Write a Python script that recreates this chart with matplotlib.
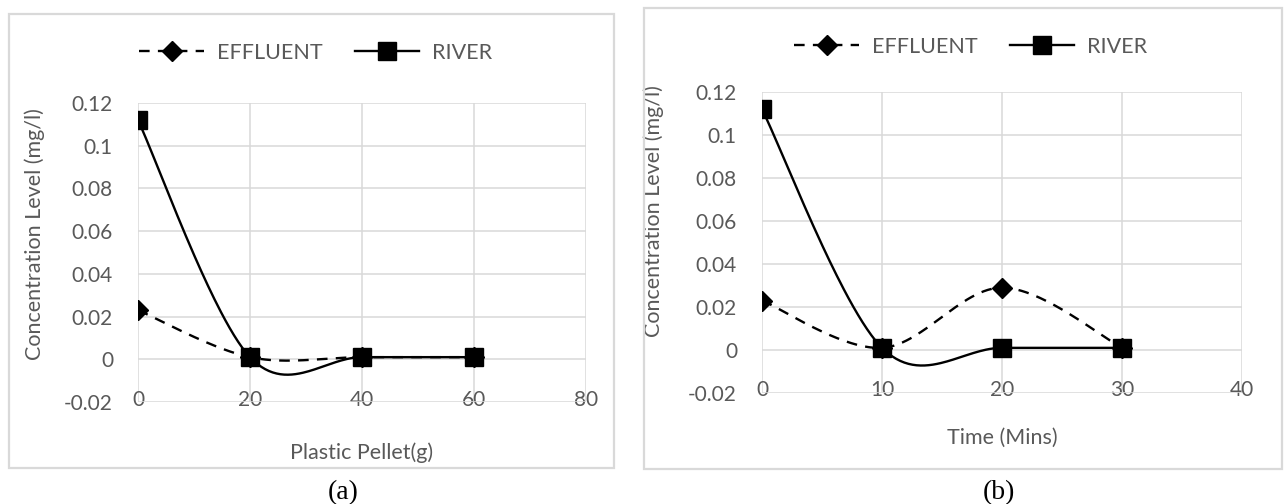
import numpy as np
import matplotlib.pyplot as plt
from matplotlib.patches import Rectangle
from matplotlib.ticker import FuncFormatter

# panel (a): plastic pellet dose
pellet_g = [0, 20, 40, 60]
effluent_a = [0.023, 0.001, 0.001, 0.001]
river_a = [0.112, 0.001, 0.001, 0.001]
xticks_a = [0, 20, 40, 60, 80]

# panel (b): contact time
time_min = [0, 10, 20, 30]
effluent_b = [0.023, 0.001, 0.029, 0.001]
river_b = [0.112, 0.001, 0.001, 0.001]
xticks_b = [0, 10, 20, 30, 40]

yticks = [-0.02, 0, 0.02, 0.04, 0.06, 0.08, 0.1, 0.12]

GREY = '#595959'
GRID = '#d9d9d9'
FONT = 'Lato'
DASH = (4.5, 3.5)
plt.rcParams['font.family'] = [FONT, 'DejaVu Sans']


def excel_smooth(x, y, n=60):
    # bezier segments with catmull-rom style control points (like excel "smoothed line")
    p = np.column_stack([x, y]).astype(float)
    p = np.vstack([p[:1], p, p[-1:]])
    out = []
    t = np.linspace(0, 1, n)[:, None]
    for i in range(1, len(p) - 2):
        p0, p1 = p[i], p[i + 1]
        c1 = p0 + (p[i + 1] - p[i - 1]) / 6.0
        c2 = p1 - (p[i + 2] - p[i]) / 6.0
        seg = ((1 - t) ** 3) * p0 + 3 * ((1 - t) ** 2) * t * c1 + 3 * (1 - t) * t ** 2 * c2 + t ** 3 * p1
        out.append(seg if i == 1 else seg[1:])
    seg = np.vstack(out)
    return seg[:, 0], seg[:, 1]


def draw_panel(ax, x, eff, riv, xticks, xlabel, ylab_xy):
    ex, ey = excel_smooth(x, eff)
    rx, ry = excel_smooth(x, riv)
    ax.plot(ex, ey, color='black', lw=1.7, dashes=DASH, zorder=3)
    ax.plot(x, eff, ls='none', marker='D', ms=10, color='black', zorder=4)
    ax.plot(rx, ry, color='black', lw=1.7, zorder=5)
    ax.plot(x, riv, ls='none', marker='s', ms=12.5, color='black', zorder=6)

    ax.set_xlim(xticks[0], xticks[-1])
    ax.set_ylim(yticks[0], yticks[-1])
    ax.set_xticks(xticks)
    ax.set_yticks(yticks)
    ax.yaxis.set_major_formatter(FuncFormatter(lambda v, pos: '{:g}'.format(round(v, 4))))
    ax.grid(True, color=GRID, lw=1.1)
    ax.set_axisbelow(True)
    for s in ax.spines.values():
        s.set_visible(False)
    ax.tick_params(axis='both', length=0, labelsize=15, labelcolor=GREY)
    ax.tick_params(axis='y', pad=18)
    ax.tick_params(axis='x', pad=-9)
    ax.set_xlabel(xlabel, fontsize=15.5, color=GREY)
    ax.set_ylabel('Concentration Level (mg/l)', fontsize=15.5, color=GREY)
    ax.yaxis.set_label_coords(*ylab_xy)


fig = plt.figure(figsize=(12.84, 5.04), dpi=100)
W, H = 1284.0, 504.0

ax_a = fig.add_axes([138 / W, 1 - 402 / H, 448 / W, 299 / H])
ax_b = fig.add_axes([762 / W, 1 - 393 / H, 480 / W, 301 / H])

draw_panel(ax_a, pellet_g, effluent_a, river_a, xticks_a, 'Plastic Pellet(g)', (-0.208, 0.562))
draw_panel(ax_b, time_min, effluent_b, river_b, xticks_b, 'Time (Mins)', (-0.204, 0.605))
ax_a.xaxis.set_label_coords(0.5, -0.135)
ax_b.xaxis.set_label_coords(0.5, -0.115)

# legends like excel, centred on each chart area
for ax, cx, cy in [(ax_a, 316, 53), (ax_b, 971, 47)]:
    h = [
        plt.Line2D([], [], color='black', lw=1.7, dashes=DASH, marker='D', ms=10),
        plt.Line2D([], [], color='black', lw=1.7, marker='s', ms=12.5),
    ]
    fig.legend(h, ['EFFLUENT', 'RIVER'], loc='center', bbox_to_anchor=(cx / W, 1 - cy / H),
               ncol=2, frameon=False, fontsize=15.5, labelcolor=GREY, handlelength=3.0,
               handletextpad=0.6, columnspacing=1.5, numpoints=1)

# chart area borders
fig.add_artist(Rectangle((9 / W, 1 - 468 / H), 605 / W, 454 / H, transform=fig.transFigure,
                         fill=False, edgecolor=GRID, lw=1.6))
fig.add_artist(Rectangle((644 / W, 1 - 469 / H), 638 / W, 461 / H, transform=fig.transFigure,
                         fill=False, edgecolor=GRID, lw=1.6))

# sub-figure captions
fig.text(343 / W, 1 - 493 / H, '(a)', family='Liberation Serif', fontsize=20, ha='center', va='center')
fig.text(999 / W, 1 - 493 / H, '(b)', family='Liberation Serif', fontsize=20, ha='center', va='center')

fig.savefig('out.png', dpi=100)
